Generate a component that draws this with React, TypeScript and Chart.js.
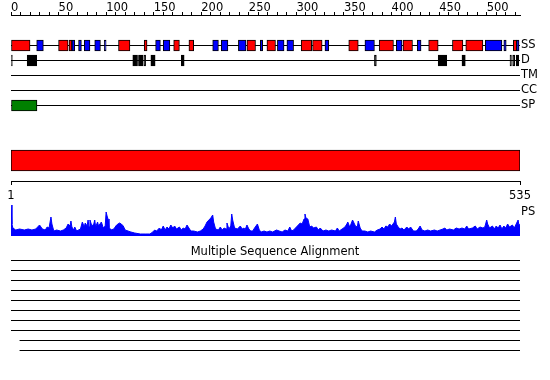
import React, { useEffect, useRef } from 'react';
import { Chart, registerables } from 'chart.js';

Chart.register(...registerables);

// ---------------- data ----------------
const SEQ_LENGTH = 535;
const FONT_FAMILY = 'DejaVu Sans';

const rulerTicks = [0, 10, 20, 30, 40, 50, 60, 70, 80, 90, 100, 110, 120, 130, 140, 150, 160, 170, 180, 190, 200, 210, 220, 230, 240, 250, 260, 270, 280, 290, 300, 310, 320, 330, 340, 350, 360, 370, 380, 390, 400, 410, 420, 430, 440, 450, 460, 470, 480, 490, 500, 510, 520, 530];
const rulerLabelEvery = 50;

const trackNames = ['SS', 'D', 'TM', 'CC', 'SP'];

// secondary structure: helices (red) and strands (blue), track SS
const helixSegments: [number, number][] = [
  [0, 20], [50, 60], [61, 64], [113, 125], [140, 143], [171, 177], [187, 192],
  [248, 257], [269, 278], [305, 316], [317, 327], [355, 365], [387, 402],
  [412, 422], [439, 449], [464, 475], [478, 496], [528, 531.5],
];
const strandSegments: [number, number][] = [
  [27, 34], [64, 67], [71, 74], [77, 83], [88, 94], [98, 100], [152, 157],
  [160, 167], [212, 218], [221, 228], [239, 247], [262, 264.5], [280, 287],
  [290, 297], [330, 334], [372, 382], [405, 411], [427, 431], [498.5, 516],
  [518, 520.5], [531.5, 534],
];
// disorder (black), track D
const disorderSegments: [number, number][] = [
  [0, 1.4], [17, 27], [128, 133], [134, 138.5], [139.5, 141.5], [147, 151.5],
  [179, 182], [382, 384], [449, 458], [474, 477.5], [524.5, 526], [527.3, 529.4],
  [531, 533.6],
];
// signal peptide (green), track SP
const signalSegments: [number, number][] = [[0, 27.3]];

// domain bar
const domainSegments: [number, number][] = [[1, 535]];
const domainTicks = [1, 535];

// PS profile: [residue, value]
const psLabel = 'PS';
const psProfile: [number, number][] = [
  [0, 31], [1, 12], [2, 8], [5, 6], [9, 7], [14, 6], [18, 7], [22, 6], [26, 7], [28, 9],
  [30, 11], [33, 7], [36, 6], [38, 9], [40, 8], [42, 19], [43, 12], [45, 5], [48, 6], [52, 5],
  [55, 6], [58, 8], [60, 12], [62, 10], [63, 15], [64, 9], [66, 6], [67, 9], [69, 5], [73, 7],
  [75, 14], [77, 9], [78, 13], [80, 10], [81, 16], [82, 9], [83, 16], [85, 10], [87, 12], [88, 16],
  [89, 9], [91, 14], [92, 10], [95, 14], [97, 8], [99, 10], [100, 24], [101, 20], [102, 17], [103, 9],
  [105, 6], [108, 7], [111, 11], [114, 13], [116, 12], [118, 10], [120, 6], [123, 5], [126, 4], [130, 3],
  [136, 2], [141, 2], [146, 2], [149, 4], [151, 6], [153, 5], [156, 8], [158, 6], [160, 10], [162, 6],
  [164, 9], [166, 7], [168, 11], [170, 8], [172, 10], [174, 7], [177, 9], [179, 6], [181, 8], [183, 7],
  [185, 11], [187, 8], [189, 5], [192, 5], [196, 4], [199, 5], [202, 7], [204, 10], [206, 14], [208, 16],
  [210, 18], [212, 21], [213, 14], [215, 7], [218, 6], [220, 9], [222, 6], [224, 8], [226, 7], [227, 13],
  [229, 7], [231, 10], [232, 22], [233, 16], [235, 8], [238, 7], [240, 9], [241, 10], [243, 7], [245, 8],
  [246, 6], [248, 11], [250, 7], [252, 5], [254, 5], [256, 8], [259, 12], [261, 6], [263, 4], [266, 5],
  [269, 4], [272, 5], [275, 4], [279, 6], [282, 5], [285, 4], [288, 6], [291, 5], [293, 9], [295, 5],
  [297, 6], [300, 9], [302, 11], [304, 13], [306, 12], [308, 17], [309, 22], [310, 18], [312, 17], [314, 9],
  [316, 10], [318, 8], [321, 9], [323, 6], [325, 8], [328, 5], [331, 6], [334, 5], [337, 6], [341, 5],
  [343, 8], [345, 5], [348, 7], [351, 9], [353, 12], [354, 14], [356, 9], [357, 11], [359, 16], [362, 10],
  [364, 9], [365, 15], [367, 8], [369, 5], [372, 5], [375, 4], [378, 5], [382, 4], [385, 6], [388, 7],
  [390, 9], [392, 7], [394, 10], [396, 9], [398, 12], [400, 10], [403, 14], [404, 19], [405, 12], [407, 9],
  [409, 7], [411, 8], [413, 6], [416, 9], [418, 7], [420, 9], [423, 5], [426, 5], [428, 7], [430, 10],
  [432, 6], [435, 5], [438, 6], [441, 5], [445, 6], [448, 5], [451, 6], [454, 7], [456, 8], [458, 6],
  [461, 7], [465, 6], [468, 8], [471, 7], [474, 8], [477, 7], [479, 10], [481, 7], [485, 8], [488, 10],
  [490, 7], [493, 9], [496, 8], [498, 9], [500, 16], [501, 12], [503, 8], [506, 10], [508, 7], [510, 10],
  [512, 8], [514, 11], [516, 7], [518, 10], [520, 8], [522, 12], [524, 9], [527, 11], [529, 8], [531, 12],
  [533, 16], [534, 10], [535, 12],
];

// multiple sequence alignment rows: start residue of each aligned sequence
const msaTitle = 'Multiple Sequence Alignment';
const msaStarts = [0, 0, 0, 0, 0, 0, 0, 0, 9, 9];

// ---------------- layout ----------------
const W = 550;
const LEFT_PX = 11;
const RIGHT_PX = 520;
const RIGHT_GUTTER = W - RIGHT_PX;
const PX_PER_RES = (RIGHT_PX - LEFT_PX) / SEQ_LENGTH;

const colors = {
  helix: '#ff0000',
  strand: '#0000ff',
  disorder: '#000000',
  signal: '#008000',
  domain: '#ff0000',
  ps: '#0000ff',
  line: '#000000',
  text: '#000000',
};

const font = { family: FONT_FAMILY, size: 11.5, lineHeight: 1.2 };

const baseOptions = {
  animation: false as const,
  responsive: false,
  devicePixelRatio: 1,
  events: [] as any[],
};

function zeroPadding(s: any) {
  s.paddingTop = 0;
  s.paddingBottom = 0;
  s.paddingLeft = 0;
  s.paddingRight = 0;
}

function hLine(y: number, x0: number, x1: number) {
  return {
    type: 'line' as const,
    data: [{ x: x0, y }, { x: x1, y }],
    borderColor: colors.line,
    borderWidth: 1,
    pointRadius: 0,
    order: 5,
  };
}

function boxes(segments: [number, number][], row: number, color: string, thickness: number) {
  return {
    type: 'bar' as const,
    data: segments.map(([s, e]) => ({ x: [s, e], y: row })),
    backgroundColor: color,
    borderColor: colors.line,
    borderWidth: 1,
    borderSkipped: false,
    barThickness: thickness,
    grouped: false,
    order: 1,
  };
}

// ---------- chart A: ruler + feature tracks ----------
function makeTracks(): any {
  const rowPx = 15;
  const areaTop = 15;
  const firstRowPx = 45.5;
  const areaHeight = 115 - areaTop;
  const yMin = -(firstRowPx - areaTop) / rowPx;
  const yMax = yMin + areaHeight / rowPx;
  return {
    type: 'bar',
    data: {
      datasets: [
        ...trackNames.map((_, i) => hLine(i, 0, SEQ_LENGTH)),
        boxes(helixSegments, 0, colors.helix, 11),
        boxes(strandSegments, 0, colors.strand, 11),
        boxes(disorderSegments, 1, colors.disorder, 11),
        boxes(signalSegments, 4, colors.signal, 11),
      ],
    },
    options: {
      ...baseOptions,
      indexAxis: 'y',
      layout: { padding: { left: LEFT_PX, right: 0, top: 0, bottom: 0 } },
      plugins: { legend: { display: false }, tooltip: { enabled: false } },
      scales: {
        x: {
          type: 'linear',
          position: 'top',
          offset: false,
          min: 0,
          max: SEQ_LENGTH,
          afterBuildTicks: (s: any) => { s.ticks = rulerTicks.map((v) => ({ value: v })); },
          afterFit: (s: any) => { s.height = areaTop; zeroPadding(s); },
          ticks: {
            autoSkip: false,
            maxRotation: 0,
            align: 'start',
            padding: -3,
            color: colors.text,
            font,
            callback: (v: any) => (Number(v) % rulerLabelEvery === 0 ? String(v) : ''),
          },
          grid: { display: true, drawOnChartArea: false, drawTicks: true, tickLength: 3, color: colors.line },
          border: { display: true, color: colors.line, width: 1 },
        },
        y: {
          type: 'linear',
          position: 'right',
          reverse: true,
          offset: false,
          min: yMin,
          max: yMax,
          afterBuildTicks: (s: any) => { s.ticks = trackNames.map((_, i) => ({ value: i })); },
          afterFit: (s: any) => { s.width = RIGHT_GUTTER; zeroPadding(s); },
          ticks: { padding: 1, color: colors.text, font, callback: (v: any) => trackNames[Number(v)] ?? '' },
          grid: { display: false, drawTicks: false, tickLength: 0 },
          border: { display: false },
        },
      },
    },
  };
}

// ---------- chart B: domain bar with length ruler ----------
function makeDomain(): any {
  return {
    type: 'bar',
    data: {
      datasets: [boxes(domainSegments, 0, colors.domain, 21)],
    },
    options: {
      ...baseOptions,
      indexAxis: 'y',
      layout: { padding: { left: LEFT_PX, right: RIGHT_GUTTER, top: 0, bottom: 0 } },
      plugins: { legend: { display: false }, tooltip: { enabled: false } },
      scales: {
        x: {
          type: 'linear',
          position: 'bottom',
          offset: false,
          min: domainTicks[0],
          max: domainTicks[domainTicks.length - 1],
          afterBuildTicks: (s: any) => { s.ticks = domainTicks.map((v) => ({ value: v })); },
          afterFit: (s: any) => { s.height = 21; zeroPadding(s); },
          ticks: { autoSkip: false, maxRotation: 0, padding: 4.5, color: colors.text, font },
          grid: { display: true, drawOnChartArea: false, drawTicks: true, tickLength: 4, color: colors.line },
          border: { display: true, color: colors.line, width: 1 },
        },
        y: { type: 'linear', display: false, offset: false, min: -1, max: 1 },
      },
    },
  };
}

// ---------- chart C: PS profile ----------
function makeProfile(): any {
  return {
    type: 'line',
    data: {
      datasets: [
        {
          data: psProfile.map(([x, y]) => ({ x, y })),
          borderColor: colors.ps,
          backgroundColor: colors.ps,
          borderWidth: 1,
          pointRadius: 0,
          fill: 'origin',
          tension: 0,
        },
      ],
    },
    options: {
      ...baseOptions,
      layout: { padding: { left: LEFT_PX, right: 0, top: 0, bottom: 2 } },
      plugins: { legend: { display: false }, tooltip: { enabled: false } },
      scales: {
        x: { type: 'linear', display: false, offset: false, min: 0, max: SEQ_LENGTH },
        y: {
          type: 'linear',
          position: 'right',
          offset: false,
          min: 0,
          max: 36,
          afterBuildTicks: (s: any) => { s.ticks = [{ value: 24 }]; },
          afterFit: (s: any) => { s.width = RIGHT_GUTTER; zeroPadding(s); },
          ticks: { padding: 1, color: colors.text, font, callback: () => psLabel },
          grid: { display: false, drawTicks: false, tickLength: 0 },
          border: { display: false },
        },
      },
    },
  };
}

// ---------- chart D: multiple sequence alignment ----------
function makeMsa(): any {
  const xMin = -LEFT_PX / PX_PER_RES;
  const xMax = xMin + W / PX_PER_RES;
  return {
    type: 'line',
    data: {
      datasets: msaStarts.map((s, i) => hLine(i, s, SEQ_LENGTH)),
    },
    options: {
      ...baseOptions,
      layout: { padding: 0 },
      plugins: {
        legend: { display: false },
        tooltip: { enabled: false },
        title: {
          display: true,
          text: msaTitle,
          color: colors.text,
          font: { ...font, weight: 'normal' },
          padding: { top: 5, bottom: 1.2 },
        },
      },
      scales: {
        x: { type: 'linear', display: false, offset: false, min: xMin, max: xMax },
        y: { type: 'linear', display: false, offset: false, reverse: true, min: -0.05, max: 11.95 },
      },
    },
  };
}

function ChartCanvas({ top, height, make }: { top: number; height: number; make: () => any }) {
  const ref = useRef<HTMLCanvasElement | null>(null);
  useEffect(() => {
    if (!ref.current) return;
    const chart = new Chart(ref.current, make());
    return () => chart.destroy();
  }, []);
  return (
    <canvas
      ref={ref}
      width={W}
      height={height}
      style={{ position: 'absolute', left: 0, top, width: W, height, display: 'block' }}
    />
  );
}

export default function App() {
  return (
    <div style={{ position: 'absolute', left: 0, top: 0, width: W, height: 380, background: '#fff', overflow: 'hidden' }}>
      <ChartCanvas top={0} height={115} make={makeTracks} />
      <ChartCanvas top={140} height={62} make={makeDomain} />
      <ChartCanvas top={200} height={38} make={makeProfile} />
      <ChartCanvas top={240} height={140} make={makeMsa} />
    </div>
  );
}
